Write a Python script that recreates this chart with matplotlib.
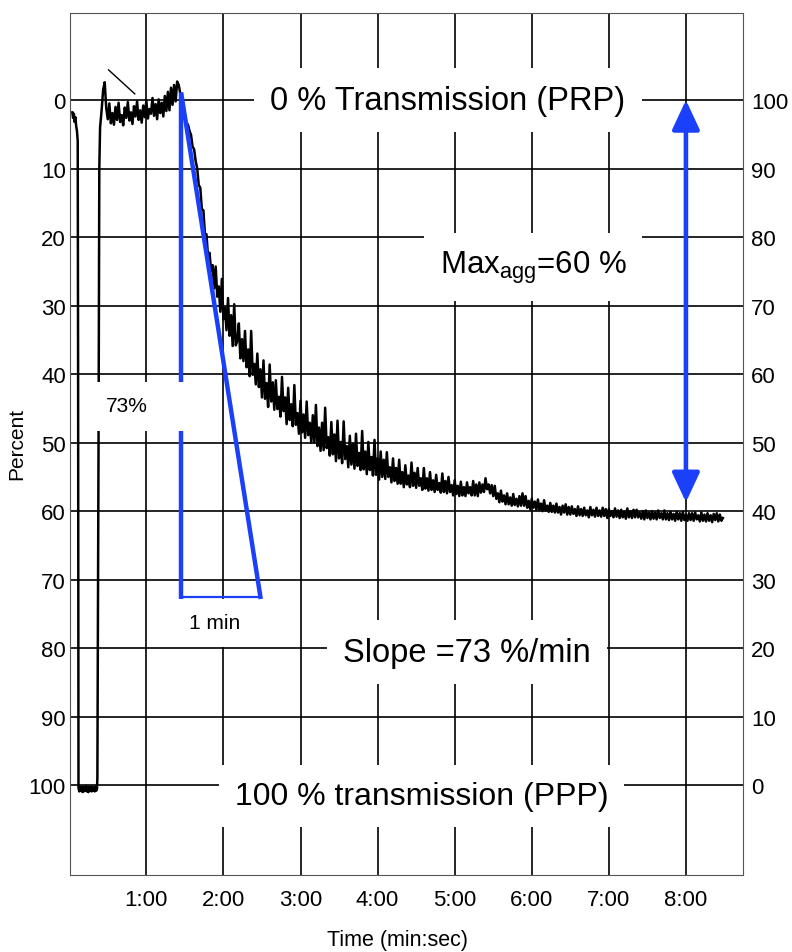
import numpy as np
import matplotlib
matplotlib.use("Agg")
import matplotlib.pyplot as plt
from matplotlib.patches import Rectangle

plt.rcParams["font.family"] = ["Liberation Sans", "DejaVu Sans"]
plt.rcParams["mathtext.fontset"] = "custom"
plt.rcParams["mathtext.rm"] = "Liberation Sans"
plt.rcParams["mathtext.it"] = "Liberation Sans:italic"

# --- data (time in minutes, percent) ---
# start of the recording: PRP baseline, short calibration dip to PPP (100 %)
pre_time = [0.04, 0.05, 0.06, 0.07, 0.08, 0.09, 0.10, 0.11, 0.115, 0.12,
            0.13, 0.14, 0.15, 0.16, 0.17, 0.18, 0.19, 0.20, 0.21, 0.22,
            0.23, 0.24, 0.25, 0.26, 0.27, 0.28, 0.29, 0.30, 0.31, 0.32,
            0.33, 0.34, 0.35, 0.36, 0.365, 0.38, 0.39, 0.40, 0.42, 0.44, 0.46]
pre_percent = [1.8, 2.6, 2.0, 3.2, 2.5, 3.8, 4.5, 6.0, 40.0, 100.4,
               100.9, 100.2, 100.8, 100.3, 101.0, 100.2, 100.9, 100.3, 100.8, 100.1,
               100.9, 100.3, 101.0, 100.2, 100.8, 100.3, 100.9, 100.2, 100.8, 100.4,
               100.9, 100.2, 100.8, 100.5, 99.0, 50.0, 10.0, 4.0, 1.5, -1.5, -2.6]

# main recording, one sample every 0.02 min from 0.48 min
T0 = 0.48
STEP = 0.02
trace_percent = [
    1.2, 2.8, 0.5, 3.4, 1.9, 3.6, 1.0, 2.9, 0.4, 3.2,
    2.2, 3.7, 1.1, 2.6, 0.3, 3.0, 1.8, 3.5, 0.9, 2.4,
    0.2, 2.9, 1.5, 3.3, 0.8, 2.5, 0.1, 2.7, 1.3, 2.0,
    -0.3, 2.3, 0.6, 2.8, -0.1, 1.9, 0.4, 2.4, -0.6, 1.6,
    -1.2, 1.5, -1.8, 0.7, -2.2, 0.2, -2.7, -2.2, -1.0, -0.5,
    1.0, 2.2, 3.3, 3.6, 4.5, 5.1, 6.8, 7.2, 8.9, 10.0,
    12.4, 12.8, 15.9, 16.1, 19.5, 19.6, 22.8, 22.3, 25.0, 24.1,
    27.5, 24.3, 28.7, 27.2, 30.9, 26.1, 32.0, 30.3, 33.6, 28.9,
    34.4, 31.4, 35.9, 29.8, 35.8, 35.2, 32.6, 37.7, 34.9, 38.1,
    33.7, 39.0, 36.4, 40.3, 33.7, 40.1, 38.5, 41.5, 37.0, 41.9,
    39.3, 43.4, 38.0, 43.6, 41.3, 44.8, 38.6, 44.0, 41.2, 45.2,
    40.9, 45.1, 43.3, 46.2, 40.4, 45.4, 43.4, 47.3, 42.0, 46.7,
    44.4, 47.6, 41.6, 47.4, 45.7, 48.7, 43.9, 48.5, 45.9, 49.3,
    44.0, 48.9, 47.1, 50.0, 46.0, 50.0, 44.5, 50.5, 47.8, 51.2,
    47.1, 51.1, 44.9, 50.8, 49.2, 51.9, 47.0, 51.7, 48.8, 52.7,
    46.8, 52.3, 49.9, 53.0, 46.9, 52.4, 50.5, 53.6, 49.0, 53.2,
    50.2, 53.8, 48.7, 53.4, 51.5, 54.0, 48.3, 53.9, 51.3, 54.6,
    49.9, 54.0, 52.1, 54.8, 49.6, 54.7, 52.3, 55.4, 51.3, 55.0,
    52.5, 55.3, 51.4, 55.0, 53.6, 55.8, 52.3, 55.6, 53.7, 56.0,
    52.5, 56.0, 54.3, 56.5, 53.3, 56.1, 54.8, 56.5, 52.9, 56.3,
    54.4, 56.6, 53.7, 56.3, 55.2, 56.9, 53.7, 56.7, 55.2, 57.0,
    54.3, 56.9, 55.5, 57.2, 54.7, 56.9, 55.9, 57.3, 54.5, 57.2,
    55.6, 57.4, 55.0, 57.2, 56.2, 57.7, 55.5, 57.5, 56.3, 57.8,
    55.7, 57.7, 56.5, 57.8, 55.8, 57.4, 56.5, 57.7, 55.6, 57.7,
    56.1, 57.8, 55.8, 57.3, 56.1, 57.2, 55.2, 56.8, 56.1, 57.4,
    56.2, 57.8, 56.3, 58.2, 57.4, 58.7, 57.0, 58.6, 57.7, 59.0,
    57.4, 59.0, 58.0, 59.2, 57.5, 59.1, 58.2, 59.3, 57.8, 59.2,
    57.4, 59.2, 57.8, 59.5, 58.5, 59.7, 58.2, 59.5, 58.6, 59.8,
    58.3, 59.8, 58.9, 60.0, 58.4, 59.9, 59.2, 60.1, 58.8, 60.1,
    59.2, 60.2, 58.9, 60.2, 59.4, 60.5, 59.2, 60.2, 59.0, 60.5,
    59.4, 60.5, 59.3, 60.4, 59.7, 60.7, 59.3, 60.6, 59.7, 60.7,
    59.5, 60.6, 59.9, 60.9, 59.4, 60.6, 59.8, 60.8, 59.5, 60.7,
    59.9, 60.8, 59.5, 60.7, 59.7, 61.0, 59.7, 60.7, 60.0, 60.9,
    59.6, 60.8, 59.9, 61.0, 59.8, 60.9, 60.1, 61.1, 59.6, 60.9,
    60.0, 61.0, 59.8, 60.9, 59.8, 60.9, 60.2, 61.1, 60.0, 61.2,
    59.9, 61.0, 60.2, 61.2, 60.0, 61.1, 60.2, 61.2, 59.9, 61.0,
    60.3, 61.2, 59.9, 61.2, 60.3, 61.3, 60.1, 61.2, 60.4, 61.4,
    60.1, 61.2, 60.3, 61.4, 60.1, 61.3, 60.5, 61.4, 60.3, 61.3,
    60.3, 61.4, 60.2, 61.2, 60.6, 61.5, 60.2, 61.4, 60.5, 61.5,
    60.3, 61.4, 60.6, 61.6, 60.4, 61.3, 60.3, 61.5, 60.5, 61.4,
    61.0,
]
trace_time = T0 + STEP * np.arange(len(trace_percent))

# short pen mark near the start of the baseline
mark_time = [0.51, 0.85]
mark_percent = [-4.4, -0.9]

# slope triangle (1 min base, 73 % drop)
slope_time = [1.455, 2.48]
slope_percent = [-0.8, 72.5]

# maximum aggregation arrow
max_time = 8.0
max_top = 0.0
max_bottom = 58.7

x_ticks = [1, 2, 3, 4, 5, 6, 7, 8]
x_labels = ["1:00", "2:00", "3:00", "4:00", "5:00", "6:00", "7:00", "8:00"]
pct_ticks = [0, 10, 20, 30, 40, 50, 60, 70, 80, 90, 100]

BLUE = "#1a40fa"

fig = plt.figure(figsize=(7.92, 9.53), dpi=100)
ax = fig.add_axes([0.0884, 0.0808, 0.8497, 0.9045])

time = np.concatenate([pre_time, trace_time])
percent = np.concatenate([pre_percent, trace_percent])
ax.plot(time, percent, color="black", lw=1.8, zorder=2)
ax.plot(mark_time, mark_percent, color="black", lw=1.0, zorder=2)

ax.set_xlim(0.01, 8.74)
ax.set_ylim(113.1, -12.7)
ax.set_xticks(x_ticks)
ax.set_xticklabels(x_labels)
ax.set_yticks(pct_ticks)
ax.tick_params(axis="both", length=0, labelsize=16)
ax.tick_params(axis="x", pad=10)
ax.tick_params(axis="y", pad=3)
ax.grid(True, color="black", lw=1.2)
ax.set_axisbelow(True)
for sp in ax.spines.values():
    sp.set_color("#555555")
    sp.set_linewidth(0.8)

right = ax.twinx()
lo, hi = ax.get_ylim()
right.set_ylim(100 - lo, 100 - hi)
right.set_yticks(pct_ticks)
right.tick_params(axis="y", length=0, labelsize=16, pad=6)
for sp in right.spines.values():
    sp.set_visible(False)

# slope triangle
ax.plot([slope_time[0], slope_time[0]], slope_percent, color=BLUE, lw=3.2, zorder=3)
ax.plot(slope_time, slope_percent, color=BLUE, lw=3.2, zorder=3)
ax.plot(slope_time, [slope_percent[1], slope_percent[1]], color=BLUE, lw=1.6, zorder=7)

# white label area for "73%"
ax.add_patch(Rectangle((0.16, 41.2), 1.33, 7.1, facecolor="white",
                       edgecolor="none", zorder=4))
ax.text(0.75, 44.6, "73%", fontsize=15, ha="center", va="center", zorder=5)
ax.text(1.88, 76.3, "1 min", fontsize=15, ha="center", va="center", zorder=5,
        bbox=dict(boxstyle="square,pad=0.7", facecolor="white", edgecolor="none"))

# max aggregation arrow
ax.annotate("", xy=(max_time, max_top), xytext=(max_time, max_bottom),
            arrowprops=dict(arrowstyle="<|-|>,head_length=0.9,head_width=0.42",
                            mutation_scale=20, color=BLUE, lw=3.3,
                            shrinkA=0, shrinkB=0), zorder=6)

box = dict(boxstyle="square,pad=0.5", facecolor="white", edgecolor="none")
ax.text(4.91, 0.0, "0 % Transmission (PRP)", fontsize=23.5, ha="center",
        va="center", zorder=5, bbox=box)
ax.text(6.02, 24.4, r"Max$_{\mathrm{agg}}$=60 %", fontsize=22.5, ha="center",
        va="center", zorder=5, bbox=box)
ax.text(5.16, 80.6, "Slope =73 %/min", fontsize=23.5, ha="center",
        va="center", zorder=5, bbox=box)
ax.text(4.57, 101.6, "100 % transmission (PPP)", fontsize=23, ha="center",
        va="center", zorder=5, bbox=box)

fig.text(17 / 792, 1 - 444 / 953, "Percent", rotation=90, fontsize=15,
         ha="center", va="center")
fig.text(398 / 792, 1 - 941 / 953, "Time (min:sec)", fontsize=15.5,
         ha="center", va="center")

fig.savefig("out.png", dpi=100)
